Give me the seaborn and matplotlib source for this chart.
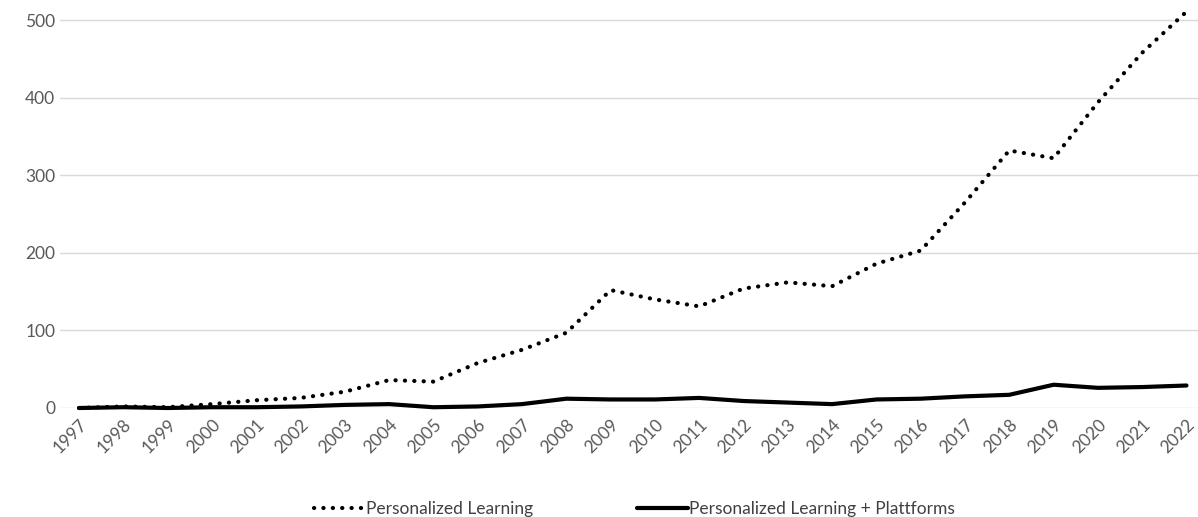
import seaborn as sns
import matplotlib.pyplot as plt
import pandas as pd

years = list(range(1997, 2023))
personalized = [0, 2, 1, 5, 10, 13, 21, 36, 34, 58, 75, 97, 152, 140, 131, 154, 162, 157, 186, 203, 265, 332, 322, 394, 458, 511]
platforms = [0, 1, 0, 1, 1, 2, 4, 5, 1, 2, 5, 12, 11, 11, 13, 9, 7, 5, 11, 12, 15, 17, 30, 26, 27, 29]

df = pd.DataFrame({'Year': [str(y) for y in years],
                   'Personalized Learning': personalized,
                   'Personalized Learning + Plattforms': platforms})
df['idx'] = range(len(df))

sns.set_style('white')
plt.rcParams['font.family'] = ['Lato', 'DejaVu Sans']

fig = plt.figure(figsize=(11.98, 5.17), dpi=100)
ax = fig.add_axes([60 / 1198, (517 - 408) / 517, 1 - 60 / 1198, 408 / 517])

sns.lineplot(data=df, x='idx', y='Personalized Learning', ax=ax, color='black',
             linewidth=3, linestyle=(0, (0.05, 2.2)), dash_capstyle='round',
             label='Personalized Learning', clip_on=False)
sns.lineplot(data=df, x='idx', y='Personalized Learning + Plattforms', ax=ax, color='black',
             linewidth=3, label='Personalized Learning + Plattforms', clip_on=False)

ax.set_xlim(-0.43, 25.26)
ax.set_ylim(0, 526)
ax.set_yticks(range(0, 501, 100))
ax.set_xticks(df['idx'])
ax.set_xticklabels(df['Year'], rotation=45, ha='right', rotation_mode='anchor')
ax.tick_params(axis='both', colors='#595959', labelsize=12.5, length=0)
ax.tick_params(axis='x', pad=6)
ax.yaxis.grid(True, color='#d9d9d9', linewidth=1)
ax.set_axisbelow(True)
for s in ax.spines.values():
    s.set_visible(False)
ax.set_xlabel('')
ax.set_ylabel('')

leg = ax.legend(loc='upper center', bbox_to_anchor=(0.505, -0.19), ncol=2, frameon=False,
                fontsize=12.5, handlelength=2.9, handletextpad=0.1, columnspacing=6.0)
for t in leg.get_texts():
    t.set_color('#404040')

fig.savefig('out.png', dpi=100)
